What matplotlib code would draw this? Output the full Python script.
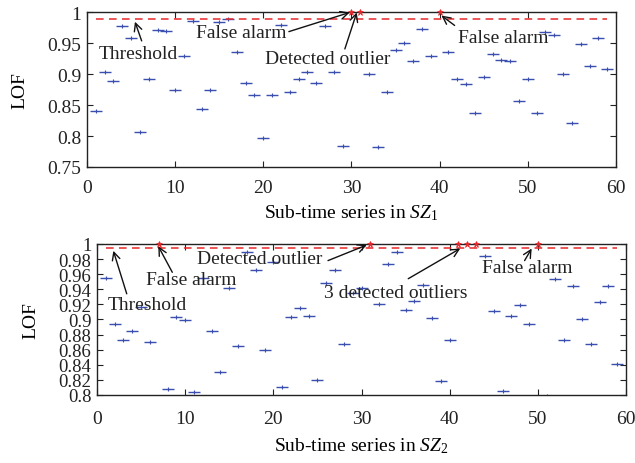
import matplotlib
matplotlib.use("Agg")
import matplotlib.pyplot as plt
import numpy as np

plt.rcParams['font.family'] = ['Liberation Serif', 'DejaVu Serif']
plt.rcParams['mathtext.fontset'] = 'custom'
plt.rcParams['mathtext.it'] = 'Liberation Serif:italic'
plt.rcParams['mathtext.rm'] = 'Liberation Serif'

# ---- SZ1 data ----
sz1_x = list(range(1, 30)) + list(range(32, 40)) + list(range(41, 60))
sz1_lof = [0.841, 0.903, 0.889, 0.978, 0.958, 0.806, 0.892, 0.972, 0.970, 0.874,
           0.929, 0.986, 0.843, 0.875, 0.985, 0.989, 0.936, 0.886, 0.866, 0.797,
           0.867, 0.979, 0.871, 0.892, 0.903, 0.886, 0.978, 0.904, 0.784,
           0.900, 0.783, 0.871, 0.940, 0.951, 0.922, 0.973, 0.929,
           0.936, 0.892, 0.884, 0.838, 0.895, 0.933, 0.923, 0.921, 0.856, 0.892,
           0.838, 0.969, 0.963, 0.901, 0.821, 0.949, 0.914, 0.958, 0.908]
sz1_out_x = [30, 31, 40]
sz1_out_lof = [1.0, 1.0, 1.0]
sz1_threshold = 0.99

# ---- SZ2 data ----
sz2_x = list(range(1, 7)) + list(range(8, 31)) + list(range(32, 41)) + list(range(44, 50)) + list(range(51, 60))
sz2_lof = [0.955, 0.894, 0.873, 0.885, 0.917, 0.870,
           0.808, 0.903, 0.899, 0.804, 0.955, 0.885, 0.831, 0.942, 0.865, 0.989,
           0.966, 0.860, 0.976, 0.811, 0.903, 0.915, 0.904, 0.820, 0.948, 0.966,
           0.867, 0.935, 0.942,
           0.921, 0.974, 0.989, 0.912, 0.925, 0.946, 0.902, 0.819, 0.873,
           0.984, 0.911, 0.805, 0.905, 0.919, 0.894,
           0.799, 0.954, 0.873, 0.944, 0.900, 0.868, 0.923, 0.945, 0.841]
sz2_out_x = [7, 31, 41, 42, 43, 50]
sz2_out_lof = [1.0, 1.0, 1.0, 1.0, 1.0, 1.0]
sz2_threshold = 0.995

blue = '#3a4fb0'
fig = plt.figure(figsize=(6.35, 4.64), dpi=100)
ax1 = fig.add_axes([0.137, 0.638, 0.833, 0.333])
ax2 = fig.add_axes([0.1528, 0.1466, 0.833, 0.3254])

def draw(ax, x, y, ox, oy, thr, ylim, yticks, ylabels, sub, xpad, xlpad, ylpad, ylsize):
    ax.plot(x, y, ls='none', marker='_', ms=8, mew=1.0, color=blue)
    ax.plot(x, y, ls='none', marker='+', ms=3.5, mew=0.8, color=blue)
    ax.plot([1, 59], [thr, thr], color='#e8262a', ls=(0, (5, 3.5)), lw=1.1)
    ax.plot(ox, oy, ls='none', marker='*', ms=5, mew=0.5, color='#e8262a', clip_on=False, zorder=5)
    ax.set_xlim(0, 60)
    ax.set_ylim(*ylim)
    ax.set_xticks(range(0, 61, 10))
    ax.set_yticks(yticks)
    ax.set_yticklabels(ylabels)
    ax.tick_params(direction='in', top=True, right=True, length=4, colors='#222222')
    ax.tick_params(axis='x', labelsize=14, pad=xpad)
    ax.tick_params(axis='y', labelsize=ylsize, pad=4)
    for s in ax.spines.values():
        s.set_linewidth(1.0)
        s.set_color('#222222')
    ax.set_ylabel('LOF', fontsize=14, labelpad=ylpad)
    ax.set_xlabel(r'Sub-time series in $SZ_{%d}$' % sub, fontsize=14, labelpad=xlpad)

draw(ax1, sz1_x, sz1_lof, sz1_out_x, sz1_out_lof, sz1_threshold, (0.75, 1.0),
     [0.75, 0.8, 0.85, 0.9, 0.95, 1.0], ['0.75', '0.8', '0.85', '0.9', '0.95', '1'], 1,
     9, 4, 14, 14)
yt2 = [0.8 + 0.02 * i for i in range(11)]
yl2 = ['0.8', '0.82', '0.84', '0.86', '0.88', '0.9', '0.92', '0.94', '0.96', '0.98', '1']
draw(ax2, sz2_x, sz2_lof, sz2_out_x, sz2_out_lof, sz2_threshold, (0.8, 1.0), yt2, yl2, 2,
     11, 6, 14, 13.5)

ap = dict(arrowstyle='->', color='#111111', lw=1.0, shrinkA=0, shrinkB=0, mutation_scale=14)
fs = 14
def ann(ax, txt, xy, xytext, tx, ty, ha='center'):
    ax.annotate('', xy=xy, xytext=xytext, arrowprops=ap)
    ax.text(tx, ty, txt, fontsize=fs, ha=ha, va='center', color='#222222')

# top annotations
ann(ax1, 'Threshold', (5.44, 0.985), (6.2, 0.954), 5.8, 0.933)
ann(ax1, 'False alarm', (29.8, 1.0), (22.9, 0.969), 17.45, 0.968)
ann(ax1, 'Detected outlier', (30.6, 1.0), (29.25, 0.941), 27.25, 0.925)
ann(ax1, 'False alarm', (40.2, 0.995), (41.7, 0.979), 47.2, 0.960)

# bottom annotations
ann(ax2, 'Threshold', (1.85, 0.991), (3.37, 0.934), 5.7, 0.9205)
ann(ax2, 'False alarm', (6.95, 0.997), (8.54, 0.9625), 10.7, 0.953)
ann(ax2, 'Detected outlier', (30.6, 0.9987), (26.2, 0.978), 18.5, 0.981)
ann(ax2, '3 detected outliers', (41.2, 0.994), (35.3, 0.954), 33.85, 0.936)
ann(ax2, 'False alarm', (49.3, 0.994), (48.5, 0.978), 48.75, 0.9695)

fig.savefig('out.png', dpi=100)
